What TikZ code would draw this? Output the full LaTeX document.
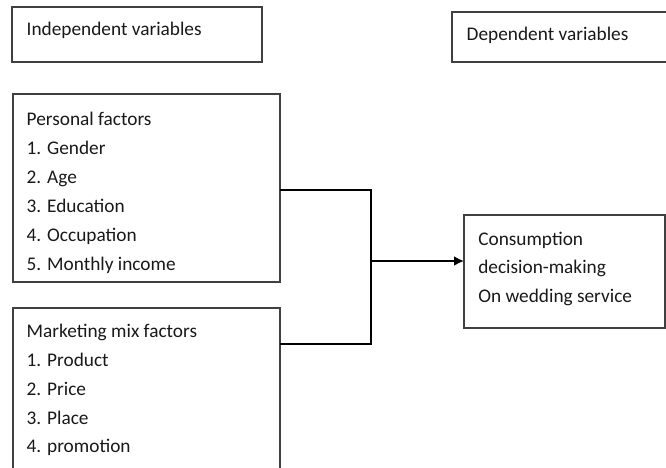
\documentclass[tikz,border=0pt]{standalone}
\usepackage{fontspec}
\setmainfont{Carlito}
\usetikzlibrary{arrows.meta}
\begin{document}
\begin{tikzpicture}[x=1pt,y=-1pt,
  box/.style={draw=black!75, line width=1.1pt, anchor=north west, inner sep=0pt, outer sep=0pt},
  txt/.style={anchor=base west, inner sep=0pt, outer sep=0pt, font=\fontsize{19.3}{29}\selectfont, text=black!90},
  conn/.style={draw=black, line width=1.1pt},
  arr/.style={draw=black, line width=2pt, -{Latex[length=10pt,width=10pt]}}]
\useasboundingbox (0,0) rectangle (666,467);
\clip (0,0) rectangle (666,467);
% boxes
\node[box, minimum width=250pt, minimum height=55pt] (indep) at (12,7) {};
\node[box, minimum width=230pt, minimum height=50pt] (dep) at (452,12) {};
\node[box, minimum width=267pt, minimum height=188pt] (personal) at (13,94) {};
\node[box, minimum width=267pt, minimum height=180pt] (marketing) at (13,308) {};
\node[box, minimum width=201pt, minimum height=113pt] (cons) at (464,215) {};
% texts
\node[txt] (tindep) at (26.7,35.7) {Independent variables};
\node[txt] (tdep) at (466.7,40) {Dependent variables};
\node[txt] (p0) at (26.7,125) {Personal factors};
\node[txt] (p1) at (26.7,154) {1. Gender};
\node[txt] (p2) at (26.7,183) {2. Age};
\node[txt] (p3) at (26.7,212) {3. Education};
\node[txt] (p4) at (26.7,241) {4. Occupation};
\node[txt] (p5) at (26.7,270) {5. Monthly income};
\node[txt] (m0) at (26.7,337.5) {Marketing mix factors};
\node[txt] (m1) at (26.7,366.5) {1. Product};
\node[txt] (m2) at (26.7,395.5) {2. Price};
\node[txt] (m3) at (26.7,424) {3. Place};
\node[txt] (m4) at (26.7,452.5) {4. promotion};
\node[txt] (c1) at (478.3,245) {Consumption};
\node[txt] (c2) at (478.3,273.5) {decision-making};
\node[txt] (c3) at (478.3,302) {On wedding service};
% connectors
\coordinate (jtop) at (371,190);
\coordinate (jbot) at (371,344);
\coordinate (jmid) at (371,261);
\draw[conn] (personal.east |- jtop) -- (jtop) -- (jbot) -- (marketing.east |- jbot);
\draw[arr] (jmid) -- (cons.west |- jmid);
\end{tikzpicture}
\end{document}
